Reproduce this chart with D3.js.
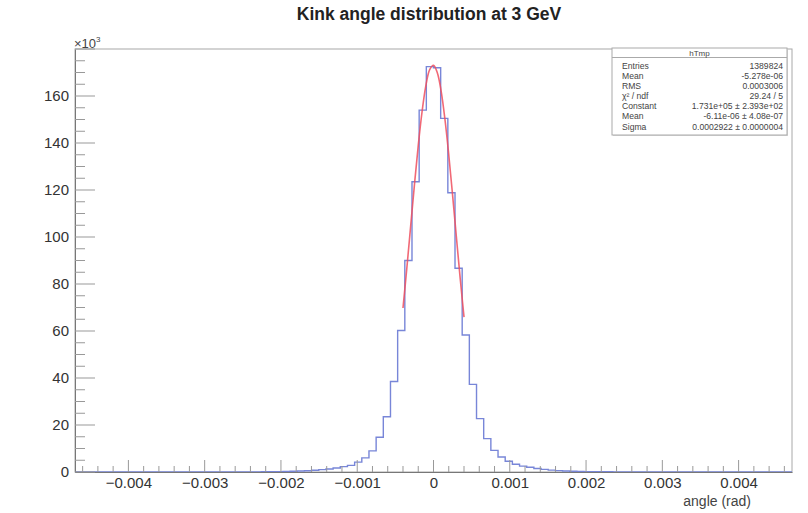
<!DOCTYPE html>
<html>
<head>
<meta charset="utf-8">
<script src="https://cdn.jsdelivr.net/npm/d3@7"></script>
<style>
  html, body { margin: 0; padding: 0; background: #fff; }
  svg { display: block; font-family: "Liberation Sans", Arial, sans-serif; }
</style>
</head>
<body>
<svg id="chart" width="808" height="513"></svg>
<script>
// ---------- data ----------
const title = "Kink angle distribution at 3 GeV";
const xTitle = "angle (rad)";
const xMin = -0.0047, xMax = 0.0047, nBins = 100;
// bin contents (thousands of entries), bins 0..99
const binCounts = [
  0, 0, 0, 0, 0, 0, 0, 0, 0, 0,
  0, 0, 0, 0, 0, 0, 0, 0, 0.01, 0.01,
  0.02, 0.02, 0.03, 0.04, 0.05, 0.07, 0.09, 0.12, 0.16, 0.22,
  0.3, 0.4, 0.55, 0.75, 1.0, 1.3, 1.7, 2.3, 2.8, 4.2,
  6.0, 9.0, 14.8, 23.5, 38.5, 60.2, 90, 123.5, 154, 172.5,
  172, 150.5, 118.8, 86.7, 58.3, 37.3, 22.7, 14.2, 9.2, 6.4,
  4.6, 3.3, 2.5, 2.0, 1.5, 1.1, 0.8, 0.6, 0.45, 0.33,
  0.25, 0.18, 0.13, 0.1, 0.08, 0.06, 0.05, 0.04, 0.03, 0.03,
  0.02, 0.02, 0.01, 0.01, 0, 0, 0, 0, 0, 0,
  0, 0, 0, 0, 0, 0, 0, 0, 0, 0
];
// fitted gaussian curve points (angle, thousands)
const fitX = [-0.0004, -0.00035, -0.0003, -0.00025, -0.0002, -0.00015, -0.0001, -0.00005, 0,
              0.00005, 0.0001, 0.00015, 0.0002, 0.00025, 0.0003, 0.00035, 0.0004];
const fitY = [69.8, 86.6, 104.4, 122.2, 138.9, 153.3, 164.4, 171.2, 173.1,
              169.9, 162.1, 150.1, 135.0, 117.9, 100.0, 82.4, 65.9];
const xTickValues = [-0.004, -0.003, -0.002, -0.001, 0, 0.001, 0.002, 0.003, 0.004];
const xTickLabels = ["\u22120.004", "\u22120.003", "\u22120.002", "\u22120.001", "0", "0.001", "0.002", "0.003", "0.004"];
const yTickValues = [0, 20, 40, 60, 80, 100, 120, 140, 160];
const statsTitle = "hTmp";
const statsNames = ["Entries", "Mean", "RMS", "\u03C7\u00B2 / ndf", "Constant", "Mean", "Sigma"];
const statsValues = ["1389824", "-5.278e-06", "0.0003006", "29.24 / 5",
                     "1.731e+05 \u00B1 2.393e+02", "-6.11e-06 \u00B1 4.08e-07", "0.0002922 \u00B1 0.0000004"];

// ---------- layout ----------
const frame = { left: 75, right: 792, top: 49, bottom: 472 };
const svg = d3.select("#chart");
svg.append("rect").attr("width", 808).attr("height", 513).attr("fill", "#fff");

const x = d3.scaleLinear().domain([xMin, xMax]).range([frame.left, frame.right]);
const y = d3.scaleLinear().domain([0, 180]).range([frame.bottom, frame.top]);

// frame
svg.append("rect")
  .attr("x", frame.left).attr("y", frame.top)
  .attr("width", frame.right - frame.left).attr("height", frame.bottom - frame.top)
  .attr("fill", "none").attr("stroke", "#a8a8a8").attr("stroke-width", 1);

// histogram step outline
const binW = (xMax - xMin) / nBins;
const pts = [];
pts.push([x(xMin), y(0)]);
binCounts.forEach((v, i) => {
  const x0 = xMin + i * binW, x1 = x0 + binW;
  pts.push([x(x0), y(v)]);
  pts.push([x(x1), y(v)]);
});
pts.push([x(xMax), y(0)]);
svg.append("path")
  .attr("d", d3.line()(pts))
  .attr("fill", "none").attr("stroke", "#7886d8").attr("stroke-width", 1.4);

// fit curve
const fitPts = fitX.map((v, i) => [v, fitY[i]]);
svg.append("path")
  .attr("d", d3.line().x(d => x(d[0])).y(d => y(d[1])).curve(d3.curveCatmullRom)(fitPts))
  .attr("fill", "none").attr("stroke", "#ee4f5e").attr("stroke-width", 1.6).attr("opacity", 0.85);

// x axis
const xAxis = d3.axisBottom(x)
  .tickValues(xTickValues).tickFormat((d, i) => xTickLabels[i])
  .tickSize(0).tickPadding(5);
const gx = svg.append("g").attr("transform", `translate(0,${frame.bottom})`).call(xAxis);
gx.select(".domain").attr("stroke", "#777");
gx.selectAll("text").attr("font-size", 15).attr("fill", "#333");
// x ticks (upward)
const xMinor = d3.range(-23, 24).map(k => k * 0.0002);
svg.append("g").selectAll("line").data(xMinor).join("line")
  .attr("x1", d => x(d)).attr("x2", d => x(d))
  .attr("y1", frame.bottom)
  .attr("y2", d => Math.abs(Math.round(d / 0.001) * 0.001 - d) < 1e-9 ? frame.bottom - 12 : frame.bottom - 6)
  .attr("stroke", "#999").attr("stroke-width", 1);

// y axis
const yAxis = d3.axisLeft(y).tickValues(yTickValues).tickFormat(d3.format("d"))
  .tickSize(0).tickPadding(6);
const gy = svg.append("g").attr("transform", `translate(${frame.left},0)`).call(yAxis);
gy.select(".domain").attr("stroke", "#777");
gy.selectAll("text").attr("font-size", 15).attr("fill", "#333");
const yMinor = d3.range(0, 37).map(k => k * 5);
svg.append("g").selectAll("line").data(yMinor).join("line")
  .attr("x1", frame.left)
  .attr("x2", d => d % 20 === 0 ? frame.left + 20 : frame.left + 10)
  .attr("y1", d => y(d)).attr("y2", d => y(d))
  .attr("stroke", "#999").attr("stroke-width", 1);

// exponent label
const expo = svg.append("text").attr("x", 74).attr("y", 48).attr("font-size", 13).attr("fill", "#444");
expo.append("tspan").text("\u00D710");
expo.append("tspan").attr("font-size", 8).attr("dy", -6).text("3");

// title
svg.append("text").attr("x", 429).attr("y", 20).attr("text-anchor", "middle")
  .attr("font-size", 17.5).attr("font-weight", "bold").attr("fill", "#222").text(title);

// x title
svg.append("text").attr("x", 751).attr("y", 506).attr("text-anchor", "end")
  .attr("font-size", 14).attr("fill", "#444").text(xTitle);

// stats box
const sb = { x: 612, y: 48, w: 175, h: 87 };
svg.append("rect").attr("x", sb.x + 1).attr("y", sb.y + 1).attr("width", sb.w).attr("height", sb.h)
  .attr("fill", "#d8d8d8");
svg.append("rect").attr("x", sb.x).attr("y", sb.y).attr("width", sb.w).attr("height", sb.h)
  .attr("fill", "#fff").attr("stroke", "#aaa").attr("stroke-width", 1);
svg.append("line").attr("x1", sb.x).attr("x2", sb.x + sb.w).attr("y1", 57.5).attr("y2", 57.5)
  .attr("stroke", "#aaa");
svg.append("text").attr("x", sb.x + sb.w / 2).attr("y", 55.5).attr("text-anchor", "middle")
  .attr("font-size", 8).attr("fill", "#444").text(statsTitle);
const rowY = d3.scaleLinear().domain([0, statsNames.length - 1]).range([68.5, 129.5]);
svg.append("g").selectAll("text").data(statsNames).join("text")
  .attr("x", 622).attr("y", (d, i) => rowY(i))
  .attr("font-size", 8.6).attr("fill", "#444").text(d => d);
svg.append("g").selectAll("text").data(statsValues).join("text")
  .attr("x", 783).attr("y", (d, i) => rowY(i)).attr("text-anchor", "end")
  .attr("font-size", 8.6).attr("fill", "#444").text(d => d);
</script>
</body>
</html>
